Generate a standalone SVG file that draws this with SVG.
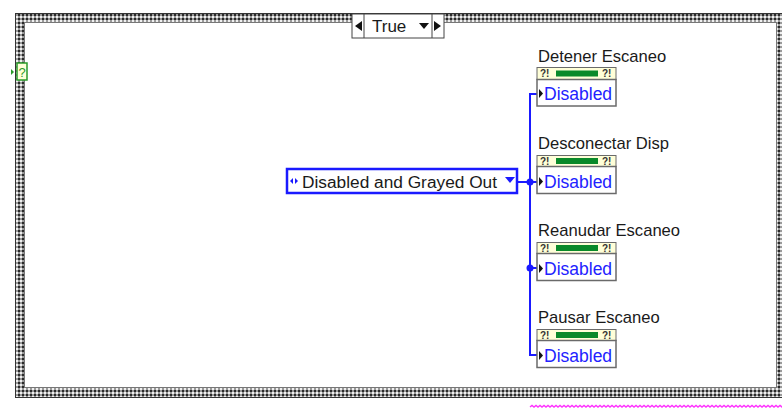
<svg xmlns="http://www.w3.org/2000/svg" width="782" height="409" viewBox="0 0 782 409">
<defs>
<pattern id="chk" x="0" y="0" width="4" height="4" patternUnits="userSpaceOnUse">
<rect width="4" height="4" fill="#9a9a9a"/>
<rect x="0" y="0" width="2" height="2" fill="#f0f0f0"/>
<rect x="2" y="2" width="2" height="2" fill="#2a2a2a"/>
</pattern>
<style>
.t{font-family:"Liberation Sans",Arial,sans-serif;font-size:16.6px;fill:#1a1a1a}
.v{font-family:"Liberation Sans",Arial,sans-serif;font-size:17.5px;fill:#2222ff}
.w{stroke:#1a1aff;stroke-width:2;fill:none}
.hd{fill:#ffffd8;stroke:#6a6a6a;stroke-width:1}
.bd{fill:#ffffff;stroke:#6a6a6a;stroke-width:1.5}
.q{font-family:"Liberation Sans",Arial,sans-serif;font-size:10px;font-weight:bold;fill:#333}
</style>
</defs>
<rect width="782" height="409" fill="#ffffff"/>
<g id="case">
<path d="M15 13 H782 V398 H15 Z M25 23 V388 H777 V23 Z" fill="url(#chk)" fill-rule="evenodd"/>
<rect x="15.5" y="13.5" width="770" height="384" fill="none" stroke="#333" stroke-width="1"/>
<rect x="24.5" y="22.5" width="752" height="365" fill="none" stroke="#777" stroke-width="1"/>
</g>
<g id="selector">
<rect x="352" y="14" width="92" height="24" fill="#ffffff" stroke="#444" stroke-width="1"/>
<line x1="364" y1="14" x2="364" y2="38" stroke="#444"/>
<line x1="432" y1="14" x2="432" y2="38" stroke="#444"/>
<polygon points="362,21 362,31 355,26" fill="#111"/>
<polygon points="434,21 434,31 441,26" fill="#111"/>
<text x="372" y="32" class="t" style="font-size:17px">True</text>
<polygon points="419,23 429,23 424,29" fill="#111"/>
</g>
<g id="case-selector-terminal">
<rect x="17" y="63" width="10" height="17" fill="#ffffd8" stroke="#2a9a2a" stroke-width="1.5"/>
<text x="18.5" y="77" style="font-family:'Liberation Sans',Arial,sans-serif;font-size:13px;fill:#2a9a2a">?</text>
<polygon points="11,69 11,75 14,72" fill="#2a9a2a"/>
</g>
<g id="connectors">
<path class="w" d="M517 182 H530"/>
<path class="w" d="M537 94 H530 V355 H537"/>
<path class="w" d="M530 182 H537 M530 268 H537"/>
<circle cx="530" cy="182" r="3.5" fill="#1a1aff"/>
<circle cx="530" cy="268" r="3.5" fill="#1a1aff"/>
</g>
<g id="enum">
<rect x="287" y="169" width="230" height="24" fill="#ffffff" stroke="#1a1aff" stroke-width="2.5"/>
<polygon points="290,181 293,178 293,184" fill="#1a1aff"/>
<polygon points="298,181 295,178 295,184" fill="#1a1aff"/>
<text x="302" y="188" class="t" style="font-size:17.3px">Disabled and Grayed Out</text>
<polygon points="505,177 515,177 510,183" fill="#1a1aff"/>
</g>
<g id="node1">
<text x="538" y="62" class="t">Detener Escaneo</text>
<rect x="537" y="67.5" width="79" height="12" class="hd"/>
<text x="540" y="77" class="q">?!</text><text x="602" y="77" class="q">?!</text>
<rect x="556" y="70.5" width="42" height="6" fill="#0a8a2a"/>
<rect x="537" y="79.5" width="79" height="26.5" class="bd"/>
<polygon points="539,89 539,98 543,93.5" fill="#111"/>
<text x="544" y="100" class="v">Disabled</text>
</g>
<g id="node2">
<text x="538" y="149" class="t">Desconectar Disp</text>
<rect x="537" y="155.5" width="79" height="11" class="hd"/>
<text x="540" y="164.5" class="q">?!</text><text x="602" y="164.5" class="q">?!</text>
<rect x="556" y="158" width="42" height="6" fill="#0a8a2a"/>
<rect x="537" y="166.5" width="79" height="27" class="bd"/>
<polygon points="539,177 539,186 543,181.5" fill="#111"/>
<text x="544" y="188" class="v">Disabled</text>
</g>
<g id="node3">
<text x="538" y="236" class="t">Reanudar Escaneo</text>
<rect x="537" y="242.5" width="79" height="11" class="hd"/>
<text x="540" y="251.5" class="q">?!</text><text x="602" y="251.5" class="q">?!</text>
<rect x="556" y="245" width="42" height="6" fill="#0a8a2a"/>
<rect x="537" y="253.5" width="79" height="27" class="bd"/>
<polygon points="539,264 539,273 543,268.5" fill="#111"/>
<text x="544" y="275" class="v">Disabled</text>
</g>
<g id="node4">
<text x="538" y="323" class="t">Pausar Escaneo</text>
<rect x="537" y="329.5" width="79" height="11" class="hd"/>
<text x="540" y="338.5" class="q">?!</text><text x="602" y="338.5" class="q">?!</text>
<rect x="556" y="332" width="42" height="6" fill="#0a8a2a"/>
<rect x="537" y="340.5" width="79" height="27" class="bd"/>
<polygon points="539,351 539,360 543,355.5" fill="#111"/>
<text x="544" y="362" class="v">Disabled</text>
</g>
<g id="magenta">
<path d="M530 407 l2 -1.5 l2 1.5 l2 -1.5 l2 1.5 l2 -1.5 l2 1.5 l2 -1.5 l2 1.5 l2 -1.5 l2 1.5 l2 -1.5 l2 1.5 l2 -1.5 l2 1.5 l2 -1.5 l2 1.5 l2 -1.5 l2 1.5 l2 -1.5 l2 1.5 l2 -1.5 l2 1.5 l2 -1.5 l2 1.5 l2 -1.5 l2 1.5 l2 -1.5 l2 1.5 l2 -1.5 l2 1.5 l2 -1.5 l2 1.5 l2 -1.5 l2 1.5 l2 -1.5 l2 1.5 l2 -1.5 l2 1.5 l2 -1.5 l2 1.5 l2 -1.5 l2 1.5 l2 -1.5 l2 1.5 l2 -1.5 l2 1.5 l2 -1.5 l2 1.5 l2 -1.5 l2 1.5 l2 -1.5 l2 1.5 l2 -1.5 l2 1.5 l2 -1.5 l2 1.5 l2 -1.5 l2 1.5 l2 -1.5 l2 1.5 l2 -1.5 l2 1.5 l2 -1.5 l2 1.5 l2 -1.5 l2 1.5 l2 -1.5 l2 1.5 l2 -1.5 l2 1.5 l2 -1.5 l2 1.5 l2 -1.5 l2 1.5 l2 -1.5 l2 1.5 l2 -1.5 l2 1.5 l2 -1.5 l2 1.5 l2 -1.5 l2 1.5 l2 -1.5 l2 1.5 l2 -1.5 l2 1.5 l2 -1.5 l2 1.5 l2 -1.5 l2 1.5 l2 -1.5 l2 1.5 l2 -1.5 l2 1.5 l2 -1.5 l2 1.5 l2 -1.5 l2 1.5 l2 -1.5 l2 1.5 l2 -1.5 l2 1.5 l2 -1.5 l2 1.5 l2 -1.5 l2 1.5 l2 -1.5 l2 1.5 l2 -1.5 l2 1.5 l2 -1.5 l2 1.5 l2 -1.5 l2 1.5 l2 -1.5 l2 1.5 l2 -1.5 l2 1.5 l2 -1.5 l2 1.5 l2 -1.5 l2 1.5 l2 -1.5 l2 1.5 l2 -1.5 l2 1.5 l2 -1.5 l2 1.5 l2 -1.5 l2 1.5 l2 -1.5 l2 1.5 l2 -1.5 l2 1.5 l2 -1.5 l2 1.5 l2 -1.5 l2 1.5 l2 -1.5 l2 1.5 l2 -1.5 l2 1.5" fill="none" stroke="#ff33ff" stroke-width="1.5"/>
</g>
</svg>
